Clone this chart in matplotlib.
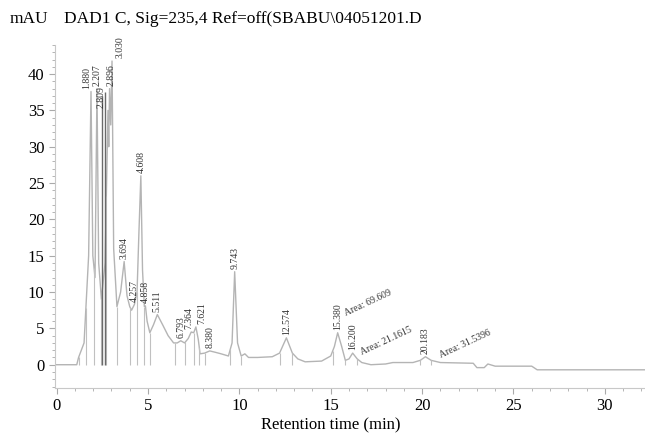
import numpy as np
import matplotlib.pyplot as plt

plt.rcParams['font.family'] = ['Liberation Serif', 'DejaVu Serif']

# chromatogram trace (time in min, signal in mAU)
trace_t = [0.0, 1.1, 1.2, 1.5, 1.75, 1.88, 1.98, 2.1, 2.207, 2.3, 2.45,
           2.65, 2.809, 2.85, 2.896, 2.96, 3.03, 3.12, 3.3, 3.5, 3.694,
           3.85, 4.0, 4.1, 4.257, 4.4, 4.5, 4.608, 4.7, 4.8, 4.858, 4.95,
           5.1, 5.3, 5.511, 5.8, 6.1, 6.4, 6.6, 6.793, 7.0, 7.2, 7.364,
           7.5, 7.621, 7.75, 7.85, 8.1, 8.38, 8.7, 9.0, 9.4, 9.6, 9.743,
           9.9, 10.1, 10.3, 10.5, 11.0, 11.8, 12.2, 12.574, 12.9, 13.2,
           13.6, 14.5, 15.0, 15.2, 15.38, 15.6, 15.8, 16.0, 16.2, 16.45,
           16.7, 17.2, 18.0, 18.4, 19.5, 19.9, 20.183, 20.5, 21.0, 22.8,
           23.0, 23.4, 23.6, 24.0, 25.0, 26.0, 26.3, 32.5]
trace_y = [0.0, 0.0, 1.0, 3.0, 15.0, 37.6, 15.0, 12.0, 38.0, 14.0, 9.0,
           14.0, 35.0, 30.0, 38.0, 33.0, 41.8, 16.0, 8.0, 10.0, 14.2,
           9.5, 8.0, 7.5, 8.3, 10.0, 18.0, 26.0, 13.0, 8.0, 8.1, 6.0,
           4.4, 5.5, 6.9, 5.5, 4.0, 3.0, 3.0, 3.3, 3.0, 3.6, 4.5,
           4.4, 5.2, 3.5, 1.5, 1.6, 1.9, 1.7, 1.5, 1.2, 3.0, 12.8,
           3.0, 1.2, 1.5, 1.0, 1.0, 1.1, 1.6, 3.7, 1.6, 0.8,
           0.4, 0.5, 1.2, 2.5, 4.4, 2.5, 0.6, 0.8, 1.6, 0.8,
           0.3, 0.0, 0.1, 0.3, 0.3, 0.6, 1.1, 0.6, 0.3, 0.2,
           -0.4, -0.4, 0.1, -0.2, -0.2, -0.2, -0.7, -0.7]

# integrated peaks: retention time, apex height
peak_rt = [1.880, 2.207, 2.809, 2.896, 3.030, 3.694, 4.257, 4.608, 4.858,
           5.511, 6.793, 7.364, 7.621, 8.380, 9.743, 12.574, 15.380, 16.200,
           20.183]
peak_h = [37.6, 38.0, 35.0, 38.0, 41.8, 14.2, 8.3, 26.0, 8.1,
          6.9, 3.3, 4.5, 5.2, 1.9, 12.8, 3.7, 4.4, 1.6, 1.1]

# peak start/end markers (drop lines)
drop_t = [1.2, 1.6, 2.05, 2.45, 2.72, 3.3, 4.0, 4.4, 4.8, 5.1, 6.45, 7.05,
          7.5, 7.8, 8.1, 9.5, 10.1, 12.2, 12.9, 15.1, 15.8, 16.45, 19.9,
          20.5]

areas = ["Area: 69.609", "Area: 21.1615", "Area: 31.5396"]
area_pos = [(15.9, 6.5), (16.75, 1.1), (21.1, 0.7)]

fig = plt.figure(figsize=(6.45, 4.33), dpi=100)
ax = fig.add_axes([0.085, 0.104, 0.915, 0.792])

ax.plot(trace_t, trace_y, color='#b4b4b4', lw=1.0)
ax.vlines(drop_t, 0, np.interp(drop_t, trace_t, trace_y), color='#c0c0c0', lw=0.8)
ax.vlines([2.5, 2.66], 0, [37.0, 37.5], color='#6a6a6a', lw=1.0)

offs = {1.880: -3, 2.809: -5, 2.896: 1, 3.030: 6, 7.364: -2, 7.621: 4}
for rt, h in zip(peak_rt, peak_h):
    ax.annotate(f"{rt:.3f}", (rt, h), xytext=(offs.get(rt, 0), 2),
                textcoords='offset points', rotation=90, ha='center',
                va='bottom', fontsize=7, color='#333333')

for txt, (x, y) in zip(areas, area_pos):
    ax.text(x, y, txt, rotation=25, rotation_mode='anchor', ha='left',
            va='bottom', fontsize=7, color='#333333')

ax.set_xlim(-0.1, 32.2)
ax.set_ylim(-3.2, 44.0)
ax.set_xticks(range(0, 31, 5))
ax.set_xticks(range(0, 33), minor=True)
ax.set_yticks(range(0, 41, 5))
ax.set_yticks(range(-3, 45), minor=True)
ax.tick_params(which='both', colors='#aaaaaa', labelcolor='black', labelsize=12)
ax.tick_params(which='major', length=4)
ax.tick_params(which='minor', length=2)
for s in ['top', 'right']:
    ax.spines[s].set_visible(False)
for s in ['left', 'bottom']:
    ax.spines[s].set_color('#c8c8c8')
ax.set_xlabel("Retention time (min)", fontsize=12)
ax.xaxis.set_label_coords(0.468, -0.085)

fig.text(0.015, 0.948, "mAU", fontsize=12.5)
fig.text(0.1, 0.948, "DAD1 C, Sig=235,4 Ref=off(SBABU\\04051201.D", fontsize=12.5)

fig.savefig("out.png", dpi=100)
